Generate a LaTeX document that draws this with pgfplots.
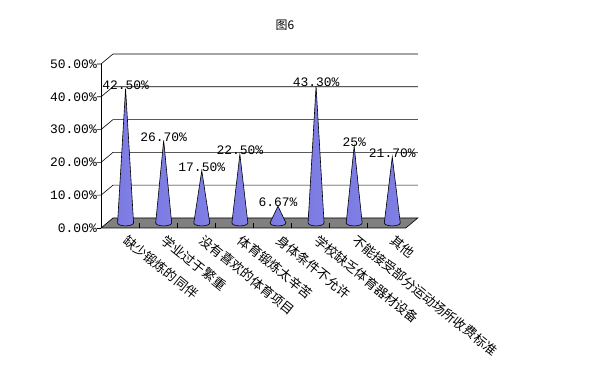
\documentclass[border=0pt]{standalone}
\usepackage{pgfplots}
\pgfplotsset{compat=1.18}
\usepackage{fontspec}
\newfontfamily\cjk{Noto Sans CJK SC}
\newfontfamily\numfont{Liberation Mono}
\definecolor{coneL}{RGB}{122,122,226}
\definecolor{coneM}{RGB}{168,168,255}
\definecolor{coneR}{RGB}{128,128,230}
\definecolor{floorgray}{RGB}{128,128,128}
\begin{document}
\begin{tikzpicture}
\begin{axis}[
  x=38.1bp, y=3.28bp,
  xmin=0.5, xmax=8.82, ymin=0, ymax=53.05,
  clip=false,
  axis line style={draw=none},
  major tick length=0pt,
  tick style={draw=none},
  ytick={0,10,20,30,40,50},
  yticklabels={0.00\%,10.00\%,20.00\%,30.00\%,40.00\%,50.00\%},
  yticklabel style={font=\fontsize{13}{15}\numfont, anchor=east, inner sep=0pt, xshift=-4bp},
  xtick={1,2,3,4,5,6,7,8},
  xticklabels={缺少锻炼的同伴,学业过于繁重,没有喜欢的体育项目,体育锻炼太辛苦,身体条件不允许,学校缺乏体育器材设备,不能接受部分运动场所收费标准,其他},
  xticklabel style={font=\fontsize{13}{15}\cjk, anchor=north west, inner sep=0pt, xshift=9.5bp, yshift=-5.5bp, rotate=-39},
  cone/.style={draw=black, line width=0.6bp, left color=coneL, middle color=coneM, right color=coneR},
]
% back wall grid lines with tick marks
\addplot[black, line width=0.6bp] coordinates {(0.395,0) (0.5,0)};
\addplot[black, line width=0.6bp] coordinates {(0.395,10) (0.5,10) (0.815,13.05) (8.82,13.05)};
\addplot[black, line width=0.6bp] coordinates {(0.395,20) (0.5,20) (0.815,23.05) (8.82,23.05)};
\addplot[black, line width=0.6bp] coordinates {(0.395,30) (0.5,30) (0.815,33.05) (8.82,33.05)};
\addplot[black, line width=0.6bp] coordinates {(0.395,40) (0.5,40) (0.815,43.05) (8.82,43.05)};
\addplot[black, line width=0.6bp] coordinates {(0.395,50) (0.5,50) (0.815,53.05) (8.82,53.05)};
% front value axis
\addplot[black, line width=0.6bp] coordinates {(0.5,0) (0.5,50)};
% floor
\addplot[fill=floorgray, draw=black, line width=0.6bp] coordinates {(0.5,0) (8.5,0) (8.815,3.05) (0.815,3.05)} -- cycle;
\addplot[ycomb, black, line width=0.6bp, mark=none] coordinates {(1.5,1.5) (2.5,1.5) (3.5,1.5) (4.5,1.5) (5.5,1.5) (6.5,1.5) (7.5,1.5)};
% cones
\addplot[cone] coordinates {(0.935,1.52) (0.963,1.07) (1.040,0.74) (1.145,0.62) (1.250,0.74) (1.327,1.07) (1.355,1.52) (1.145,42.5)} -- cycle;
\addplot[cone] coordinates {(1.935,1.52) (1.963,1.07) (2.040,0.74) (2.145,0.62) (2.250,0.74) (2.327,1.07) (2.355,1.52) (2.145,26.7)} -- cycle;
\addplot[cone] coordinates {(2.935,1.52) (2.963,1.07) (3.040,0.74) (3.145,0.62) (3.250,0.74) (3.327,1.07) (3.355,1.52) (3.145,17.5)} -- cycle;
\addplot[cone] coordinates {(3.935,1.52) (3.963,1.07) (4.040,0.74) (4.145,0.62) (4.250,0.74) (4.327,1.07) (4.355,1.52) (4.145,22.5)} -- cycle;
\addplot[cone] coordinates {(4.935,1.52) (4.963,1.07) (5.040,0.74) (5.145,0.62) (5.250,0.74) (5.327,1.07) (5.355,1.52) (5.145,6.67)} -- cycle;
\addplot[cone] coordinates {(5.935,1.52) (5.963,1.07) (6.040,0.74) (6.145,0.62) (6.250,0.74) (6.327,1.07) (6.355,1.52) (6.145,43.3)} -- cycle;
\addplot[cone] coordinates {(6.935,1.52) (6.963,1.07) (7.040,0.74) (7.145,0.62) (7.250,0.74) (7.327,1.07) (7.355,1.52) (7.145,25)} -- cycle;
\addplot[cone] coordinates {(7.935,1.52) (7.963,1.07) (8.040,0.74) (8.145,0.62) (8.250,0.74) (8.327,1.07) (8.355,1.52) (8.145,21.7)} -- cycle;
% data labels
\addplot[draw=none, mark=none, nodes near coords, point meta=explicit symbolic,
  nodes near coords style={anchor=center, yshift=3.5bp, font=\fontsize{13}{15}\numfont, inner sep=0pt, text=black}]
  coordinates {(1.145,42.5) [42.50\%] (2.145,26.7) [26.70\%] (3.145,17.5) [17.50\%] (4.145,22.5) [22.50\%]
               (5.145,6.67) [6.67\%] (6.145,43.3) [43.30\%] (7.145,25) [25\%] (8.145,21.7) [21.70\%]};
\node[font=\fontsize{12}{14}\cjk, inner sep=0pt] at (axis cs:5.33,61.89) {图6};
\path (axis cs:-2.1509,69.512) rectangle (axis cs:13.8596,-45.732);
\end{axis}
\end{tikzpicture}
\end{document}
